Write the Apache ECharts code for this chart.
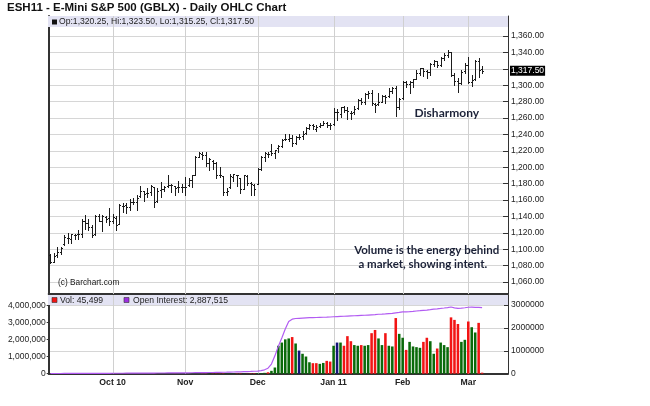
<!DOCTYPE html>
<html><head><meta charset="utf-8">
<script src="https://cdn.jsdelivr.net/npm/echarts@6/dist/echarts.min.js"></script>
<style>html,body{margin:0;padding:0;background:#fff}#c{width:650px;height:406px}</style>
</head><body><div id="c"></div>
<script>
const chartTitle = 'ESH11 - E-Mini S&P 500 (GBLX) - Daily OHLC Chart';

// trading days (category axis), last 7 are empty future slots
const tradingDays = [
  ['2010-09', [7,8,9,10,13,14,15,16,17,20,21,22,23,24,27,28,29,30]],
  ['2010-10', [1,4,5,6,7,8,11,12,13,14,15,18,19,20,21,22,25,26,27,28,29]],
  ['2010-11', [1,2,3,4,5,8,9,10,11,12,15,16,17,18,19,22,23,24,26,29,30]],
  ['2010-12', [1,2,3,6,7,8,9,10,13,14,15,16,17,20,21,22,23,27,28,29,30,31]],
  ['2011-01', [3,4,5,6,7,10,11,12,13,14,18,19,20,21,24,25,26,27,28,31]],
  ['2011-02', [1,2,3,4,7,8,9,10,11,14,15,16,17,18,22,23,24,25,28]],
  ['2011-03', [1,2,3,4,7,8,9,10,11,14,15,16]]
];

const openP = [
1093,1085,1093,1097,1106,1114,1112,1117,1118,1119,1135,1132,1127,1118,1141,1135,1139,1138,
1135,1138,1131,1153,1154,1151,1158,1157,1165,1171,1168,1170,1176,1159,1172,1173,1177,1178,1177,1176,1176,
1176,1178,1185,1191,1213,1216,1215,1205,1208,1205,1191,1189,1170,1176,1188,1191,1187,1174,1189,1181,1178,
1180,1198,1213,1216,1220,1217,1223,1226,1235,1234,1236,1230,1237,1238,1242,1248,1252,1247,1250,1252,1254,1252,
1253,1267,1265,1273,1270,1266,1267,1272,1282,1279,1289,1291,1277,1277,1280,1287,1287,1293,1296,1273,
1284,1304,1301,1304,1308,1315,1321,1317,1316,1326,1329,1325,1333,1337,1340,1312,1305,1303,1317,
1325,1304,1307,1329,1320.25];
const highP = [
1094,1096,1103,1103,1117,1120,1119,1118,1124,1137,1142,1137,1129,1142,1143,1142,1141,1150,
1143,1141,1155,1156,1156,1161,1162,1166,1177,1171,1175,1178,1176,1175,1182,1177,1190,1180,1177,1183,1180,
1188,1187,1190,1214,1219,1218,1218,1211,1209,1206,1200,1189,1175,1192,1192,1191,1187,1191,1190,1182,1180,
1199,1214,1218,1218,1228,1221,1227,1234,1240,1240,1239,1238,1240,1244,1249,1253,1253,1252,1254,1256,1255,1254,
1272,1271,1274,1275,1274,1268,1275,1283,1284,1290,1293,1294,1278,1290,1288,1288,1296,1298,1299,1284,
1305,1305,1305,1308,1318,1321,1321,1319,1327,1331,1330,1335,1339,1343,1341,1315,1309,1318,1327,
1334,1313,1331,1333,1323.5];
const lowP = [
1083,1084,1091,1094,1105,1108,1107,1112,1113,1115,1125,1124,1115,1117,1135,1122,1133,1129,
1132,1124,1131,1145,1144,1148,1155,1148,1164,1159,1164,1166,1152,1158,1164,1171,1176,1170,1166,1170,1170,
1166,1177,1176,1190,1212,1210,1201,1196,1198,1187,1188,1166,1166,1175,1183,1177,1169,1173,1178,1166,1166,
1179,1197,1208,1212,1215,1211,1219,1225,1233,1232,1226,1228,1235,1235,1241,1247,1247,1244,1249,1251,1249,1247,
1252,1258,1261,1267,1259,1259,1265,1271,1277,1277,1285,1276,1267,1276,1279,1278,1286,1291,1263,1271,
1283,1298,1291,1298,1307,1312,1311,1309,1313,1324,1322,1324,1331,1334,1311,1300,1292,1302,1315,
1303,1299,1306,1310,1315.25];
const closeP = [
1085,1092,1097,1102,1115,1114,1118,1117,1118,1135,1132,1127,1117,1141,1135,1140,1137,1134,
1139,1130,1154,1153,1151,1158,1158,1163,1171,1167,1169,1177,1158,1171,1173,1176,1178,1178,1175,1176,1176,
1176,1185,1190,1213,1217,1215,1205,1210,1205,1191,1190,1170,1171,1189,1192,1190,1173,1190,1181,1179,1173,
1198,1213,1217,1216,1217,1221,1226,1233,1234,1236,1230,1237,1237,1241,1248,1252,1250,1249,1252,1254,1252,1251,
1267,1267,1273,1270,1268,1266,1271,1282,1280,1289,1291,1278,1276,1280,1287,1286,1293,1296,1273,1283,
1304,1301,1304,1307,1315,1321,1317,1316,1326,1329,1325,1333,1337,1340,1313,1305,1303,1316,1325,
1304,1306,1329,1319,1317.5];
const volume = [
1200,1500,900,2100,1800,1300,2500,1700,3100,2200,1900,2400,2800,3500,2000,2600,2300,3000,
2700,3300,4100,2900,3600,4400,2500,3800,4700,3900,5200,4300,6100,4800,3700,5500,4600,5900,5100,6600,5800,
6200,7400,8100,9800,8700,7600,9300,8200,10400,11800,9900,14500,12200,10800,9600,11300,15800,9100,6400,14200,17900,
22000,25000,38000,62000,125000,270000,1220000,1360000,1500000,1540000,1600000,1320000,1010000,870000,750000,500000,460000,460000,430000,470000,560000,530000,
1220000,1360000,1360000,1220000,1640000,1420000,1250000,1220000,1250000,1220000,1250000,1770000,1910000,1540000,1250000,1770000,1220000,1190000,2430000,1740000,
1570000,1040000,1390000,1190000,1160000,1130000,1390000,1570000,1420000,870000,1100000,1360000,1250000,1160000,2460000,2350000,2170000,1390000,1480000,
2280000,2030000,1800000,2220000,45499];
const openInterest = [
8000,8400,8900,9500,10100,10600,11300,11800,12400,13100,13500,14300,14800,15600,16000,16900,17300,18100,
18600,19200,20300,20700,21700,22500,23000,24200,25100,25700,26800,27600,28700,29500,30600,31600,32600,33700,34700,35600,37100,
38400,40200,41500,43900,45100,47600,49200,51900,53500,57000,59300,63900,66400,70300,74000,78900,83400,88000,92300,99200,106400,
115000,135000,170000,240000,420000,780000,1200000,1560000,1950000,2280000,2380000,2410000,2420000,2430000,2440000,2446000,2451000,2455000,2461000,2466000,2470000,2476000,
2488000,2495000,2502000,2508000,2517000,2524000,2531000,2540000,2548000,2553000,2562000,2571000,2580000,2597000,2603000,2611000,2622000,2631000,2659000,2676000,
2696000,2702000,2711000,2722000,2738000,2751000,2768000,2779000,2797000,2818000,2832000,2849000,2868000,2889000,2912000,2878000,2851000,2862000,2879000,
2901000,2908000,2897000,2893000,2887515];

const tickDates = ['2010-10-01','2010-11-01','2010-12-01','2011-01-03','2011-02-01','2011-03-01'];
const tickLabels = ['Oct 10','Nov','Dec','Jan 11','Feb','Mar'];

// ---- build ----
const categories = [];
tradingDays.forEach(([m, days]) => days.forEach(d => categories.push(m + '-' + String(d).padStart(2, '0'))));
const N = closeP.length;
const last = N - 1;
const lastClose = closeP[last];

function commas(s) { return s.replace(/\B(?=(\d{3})+(?!\d))/g, ','); }
function fmt2(v) { const p = v.toFixed(2).split('.'); return commas(p[0]) + '.' + p[1]; }
function fmtInt(v) { return commas(String(Math.round(v))); }

const FONT = '"Liberation Sans", Arial, sans-serif';
const GRID_C = '#d6d6d6';
const VGRID_C = '#d0d0d0';
const AX_C = '#333';

const ohlc = closeP.map((c, i) => [i, openP[i], highP[i], lowP[i], c]);
function volColor(i) {
  const prev = i > 0 ? closeP[i - 1] : openP[0];
  return closeP[i] > prev ? '#0a6a0a' : (closeP[i] < prev ? '#f21414' : '#15157a');
}
const monthSplit = (idx, val) => tickDates.includes(val);
const monthIdx = tickDates.map(d => categories.indexOf(d));

// OHLC bars, plus the month grid lines, drawn by one custom series through the axis scale
function ohlcRender(params, api) {
  const i = api.value(0);
  const pH = api.coord([i, api.value(2)]);
  const pL = api.coord([i, api.value(3)]);
  const pO = api.coord([i, api.value(1)]);
  const pC = api.coord([i, api.value(4)]);
  const x = Math.round(pH[0]) + 0.5;
  const st = { stroke: '#1c1c1c', lineWidth: 1 };
  const yo = Math.round(pO[1]) + 0.5, yc = Math.round(pC[1]) + 0.5;
  const children = [];
  if (monthIdx.includes(i)) {
    const cs = params.coordSys;
    children.push({ type: 'rect', shape: { x: x - 0.5, y: cs.y, width: 1, height: cs.height },
      style: { fill: VGRID_C }, z2: -1 });
  }
  children.push(
    { type: 'line', shape: { x1: x, y1: Math.round(pH[1]), x2: x, y2: Math.round(pL[1]) + 1 }, style: st },
    { type: 'line', shape: { x1: x - 1.5, y1: yo, x2: x, y2: yo }, style: st },
    { type: 'line', shape: { x1: x, y1: yc, x2: x + 1.5, y2: yc }, style: st });
  return { type: 'group', children };
}
// volume bars drawn by a custom series too, so the month lines share the same scale
function volRender(params, api) {
  const i = api.value(0);
  const top = api.coord([i, api.value(1)]);
  const base = api.coord([i, 0]);
  const w = api.size([1, 0])[0] * 0.74;
  const cs = params.coordSys;
  const children = [];
  if (monthIdx.includes(i)) {
    const xm = Math.round(top[0]);
    children.push({ type: 'rect', shape: { x: xm, y: cs.y, width: 1, height: cs.height }, style: { fill: VGRID_C } });
  }
  children.push({ type: 'rect', shape: { x: top[0] - w / 2, y: top[1], width: w, height: base[1] - top[1] },
    style: { fill: volColor(i) } });
  return { type: 'group', children };
}

const chart = echarts.init(document.getElementById('c'), null, { renderer: 'canvas' });
const option = {
  animation: false,
  backgroundColor: '#fff',
  grid: [
    { left: 48.7, right: 142, top: 16, height: 278, outerBoundsMode: 'none' },
    { left: 48.7, right: 142, top: 295, height: 78.7, outerBoundsMode: 'none' }
  ],
  xAxis: [
    { type: 'category', gridIndex: 0, data: categories, boundaryGap: true,
      axisLine: { show: true, lineStyle: { color: AX_C, width: 2 } },
      axisTick: { show: false }, axisLabel: { show: false }, splitLine: { show: false } },
    { type: 'category', gridIndex: 1, data: categories, boundaryGap: true,
      axisLine: { show: true, lineStyle: { color: AX_C, width: 2 } },
      axisTick: { show: false }, splitLine: { show: false },
      axisLabel: { show: true, interval: monthSplit,
        formatter: val => tickLabels[tickDates.indexOf(val)] || '',
        fontFamily: FONT, fontSize: 8.7, fontWeight: 'bold', color: '#222', margin: 4, hideOverlap: false } }
  ],
  yAxis: [
    { type: 'value', gridIndex: 0, position: 'right', min: 1045.4, max: 1384.4,
      splitNumber: 17, minInterval: 20, maxInterval: 20, scale: true,
      axisLine: { show: true, lineStyle: { color: AX_C, width: 1 } },
      axisTick: { show: true, inside: true, length: 5, lineStyle: { color: AX_C } },
      axisLabel: { showMinLabel: false, showMaxLabel: false,
        formatter: v => (v >= 1370 || Math.abs(v - lastClose) < 8 ? '' : fmt2(v)),
        fontFamily: FONT, fontSize: 8.5, color: '#222', margin: 3 },
      splitLine: { show: true, lineStyle: { color: GRID_C, width: 1 } } },
    { type: 'value', gridIndex: 0, position: 'left', min: 1045.4, max: 1384.4,
      axisLine: { show: true, lineStyle: { color: AX_C, width: 2 } },
      axisTick: { show: false }, axisLabel: { show: false }, splitLine: { show: false } },
    { type: 'value', gridIndex: 1, position: 'left', min: 0, max: 4630000, interval: 1000000,
      axisLine: { show: true, lineStyle: { color: AX_C, width: 2 } },
      axisTick: { show: true, length: 2, lineStyle: { color: AX_C } },
      axisLabel: { showMaxLabel: false, formatter: v => fmtInt(v), fontFamily: FONT, fontSize: 8.5, color: '#222', margin: 3 },
      splitLine: { show: false } },
    { type: 'value', gridIndex: 1, position: 'right', min: 0, max: 3437000, interval: 1000000,
      axisLine: { show: true, lineStyle: { color: AX_C, width: 1 } },
      axisTick: { show: true, inside: true, length: 4, lineStyle: { color: AX_C } },
      axisLabel: { showMaxLabel: false, formatter: v => String(v), fontFamily: FONT, fontSize: 8.5, color: '#222', margin: 3 },
      splitLine: { show: true, lineStyle: { color: GRID_C, width: 1 } } },
    // last-price tag on the price axis
    { type: 'value', gridIndex: 0, position: 'right', min: 1045.4, max: 1384.4,
      axisLine: { show: false }, axisTick: { show: false }, splitLine: { show: false },
      axisLabel: { show: true, customValues: [lastClose], formatter: v => fmt2(v),
        color: '#fff', backgroundColor: '#000', padding: [1, 1, 0, 1], fontFamily: FONT, fontSize: 8.5, margin: 2 } }
  ],
  series: [
    { type: 'custom', xAxisIndex: 0, yAxisIndex: 0, data: ohlc, encode: { x: 0, y: [1, 2, 3, 4] },
      renderItem: ohlcRender, z: 3 },
    { type: 'custom', xAxisIndex: 1, yAxisIndex: 3, data: volume.map((v, i) => [i, v]), encode: { x: 0, y: 1 },
      renderItem: volRender, z: 3 },
    { type: 'line', xAxisIndex: 1, yAxisIndex: 3, data: openInterest, showSymbol: false, symbol: 'none',
      lineStyle: { color: '#b25cf2', width: 1.2 }, itemStyle: { color: '#b25cf2' }, z: 4 }
  ],
  graphic: [
    { type: 'rect', shape: { x: 48, y: 16, width: 460, height: 11 }, style: { fill: '#e3e3f3' }, z: 1, silent: true },
    { type: 'rect', shape: { x: 48, y: 295, width: 460, height: 10 }, style: { fill: '#e3e3f3' }, z: 1, silent: true },
    { type: 'text', x: 7, y: 7.5, z: 10, style: { text: chartTitle, font: 'bold 11.5px ' + FONT, fill: '#111', verticalAlign: 'middle' } },
    { type: 'rect', shape: { x: 52, y: 19.5, width: 5, height: 5 }, style: { fill: '#111' }, z: 10 },
    { type: 'text', x: 59, y: 22, z: 10, style: { text: 'Op:' + fmt2(openP[last]) + ', Hi:' + fmt2(highP[last]) + ', Lo:' + fmt2(lowP[last]) + ', Cl:' + fmt2(closeP[last]),
      font: '8.6px ' + FONT, fill: '#222', verticalAlign: 'middle' } },
    { type: 'rect', shape: { x: 52, y: 297.5, width: 5, height: 5 }, style: { fill: '#f21414', stroke: '#333', lineWidth: 0.6 }, z: 10 },
    { type: 'text', x: 60, y: 300.3, z: 10, style: { text: 'Vol: ' + fmtInt(volume[last]), font: '8.6px ' + FONT, fill: '#222', verticalAlign: 'middle' } },
    { type: 'rect', shape: { x: 124, y: 297.5, width: 5, height: 5 }, style: { fill: '#9d2fe0', stroke: '#333', lineWidth: 0.6 }, z: 10 },
    { type: 'text', x: 133, y: 300.3, z: 10, style: { text: 'Open Interest: ' + fmtInt(openInterest[last]), font: '8.6px ' + FONT, fill: '#222', verticalAlign: 'middle' } },
    { type: 'text', x: 58, y: 282.7, z: 10, style: { text: '(c) Barchart.com', font: '8.3px ' + FONT, fill: '#222', verticalAlign: 'middle' } },
    { type: 'text', x: 446.8, y: 113.3, z: 10, style: { text: 'Disharmony', font: 'bold 12px Lato, "Open Sans", sans-serif', fill: '#1c2238', align: 'center', verticalAlign: 'middle' } },
    { type: 'text', x: 426.7, y: 250, z: 10, style: { text: 'Volume is the energy behind', font: 'bold 11.5px Lato, "Open Sans", sans-serif', fill: '#1c2238', align: 'center', verticalAlign: 'middle' } },
    { type: 'text', x: 422.8, y: 264.5, z: 10, style: { text: 'a market, showing intent.', font: 'bold 11.5px Lato, "Open Sans", sans-serif', fill: '#1c2238', align: 'center', verticalAlign: 'middle' } }
  ]
};
chart.setOption(option);
</script>
</body></html>
